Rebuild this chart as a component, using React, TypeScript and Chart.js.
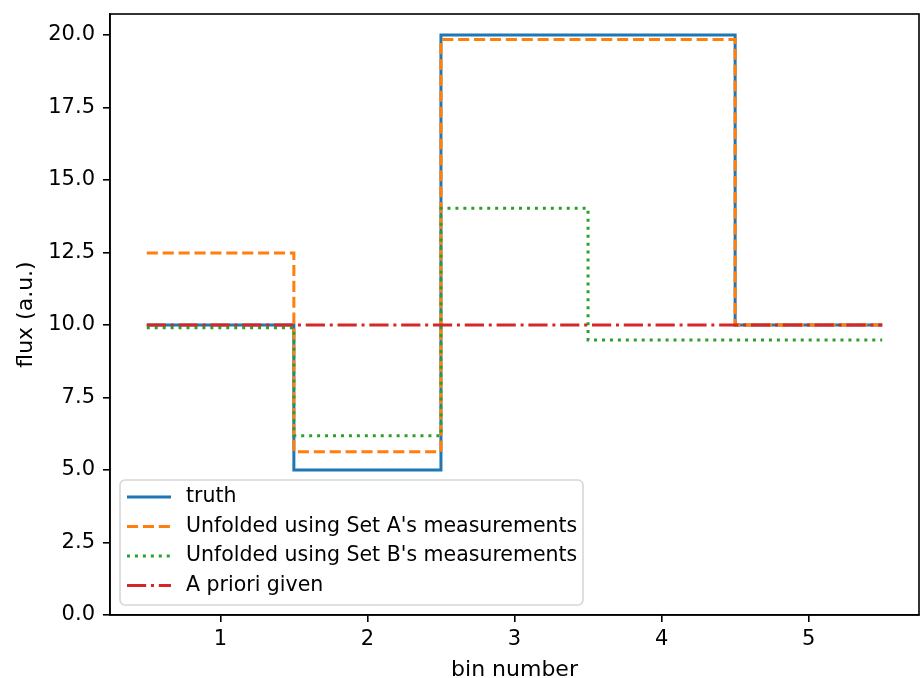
import React, { useEffect, useRef } from "react";
import { Chart, registerables } from "chart.js";

Chart.register(...registerables);

const bins = [1, 2, 3, 4, 5];
const truth = [10, 5, 20, 20, 10];
const setA = [12.48, 5.63, 19.84, 19.84, 10.0];
const setB = [9.9, 6.18, 14.02, 9.48, 9.48];
const apriori = [10, 10, 10, 10, 10];
const yTicks = [0, 2.5, 5, 7.5, 10, 12.5, 15, 17.5, 20];
const xTicks = [1, 2, 3, 4, 5];
const labels = [
  "truth",
  "Unfolded using Set A's measurements",
  "Unfolded using Set B's measurements",
  "A priori given",
];
const xTitle = "bin number";
const yTitle = "flux (a.u.)";

const FONT = "'DejaVu Sans', sans-serif";

function stepPoints(vals: number[]) {
  const pts = bins.map((b, i) => ({ x: b - 0.5, y: vals[i] }));
  pts.push({ x: bins[bins.length - 1] + 0.5, y: vals[vals.length - 1] });
  return pts;
}

const styles = [
  { color: "#1f77b4", dash: [] as number[] },
  { color: "#ff7f0e", dash: [11.1, 4.8] },
  { color: "#2ca02c", dash: [3, 4.95] },
  { color: "#d62728", dash: [19.2, 4.8, 3, 4.8] },
];

const framePlugin = {
  id: "frameLegend",
  afterDraw(chart: any) {
    const { ctx, chartArea } = chart;
    const { left, right, top, bottom } = chartArea;
    ctx.save();
    ctx.strokeStyle = "#000";
    ctx.lineWidth = 1.6;
    ctx.strokeRect(left, top, right - left, bottom - top);

    // axis titles
    ctx.fillStyle = "#000";
    ctx.font = `22px ${FONT}`;
    ctx.textAlign = "center";
    ctx.textBaseline = "alphabetic";
    ctx.fillText(xTitle, (left + right) / 2, 676);
    ctx.save();
    ctx.translate(32, (top + bottom) / 2);
    ctx.rotate(-Math.PI / 2);
    ctx.fillText(yTitle, 0, 0);
    ctx.restore();

    // legend
    const bx = left + 10, by = bottom - 135, bw = 463, bh = 125, r = 5;
    ctx.beginPath();
    ctx.moveTo(bx + r, by);
    ctx.arcTo(bx + bw, by, bx + bw, by + bh, r);
    ctx.arcTo(bx + bw, by + bh, bx, by + bh, r);
    ctx.arcTo(bx, by + bh, bx, by, r);
    ctx.arcTo(bx, by, bx + bw, by, r);
    ctx.closePath();
    ctx.fillStyle = "rgba(255,255,255,0.8)";
    ctx.fill();
    ctx.strokeStyle = "rgba(204,204,204,0.8)";
    ctx.lineWidth = 1.6;
    ctx.stroke();

    ctx.font = `20.5px ${FONT}`;
    ctx.textBaseline = "middle";
    ctx.textAlign = "left";
    labels.forEach((lab, i) => {
      const yy = by + 17 + i * 29.5;
      ctx.beginPath();
      ctx.setLineDash(styles[i].dash);
      ctx.lineCap = "butt";
      ctx.strokeStyle = styles[i].color;
      ctx.lineWidth = 3;
      ctx.moveTo(bx + 7, yy);
      ctx.lineTo(bx + 51, yy);
      ctx.stroke();
      ctx.setLineDash([]);
      ctx.fillStyle = "#000";
      ctx.fillText(lab, bx + 66, yy);
    });
    ctx.restore();
  },
};

export default function App() {
  const ref = useRef<HTMLCanvasElement>(null);
  useEffect(() => {
    if (!ref.current) return;
    const series = [truth, setA, setB, apriori];
    const chart = new Chart(ref.current, {
      type: "line",
      data: {
        datasets: series.map((s, i) => ({
          label: labels[i],
          data: stepPoints(s),
          stepped: "before" as const,
          borderColor: styles[i].color,
          borderDash: styles[i].dash,
          borderWidth: 3,
          pointRadius: 0,
          fill: false,
          order: 3 - i,
          clip: false as any,
        })),
      },
      options: {
        responsive: false,
        animation: false,
        layout: { autoPadding: false, padding: { top: 14, right: 3, left: 0, bottom: 0 } } as any,
        plugins: { legend: { display: false }, tooltip: { enabled: false } },
        scales: {
          x: {
            type: "linear",
            min: 0.25,
            max: 5.75,
            afterFit: (s: any) => {
              s.height = 63;
              s.paddingLeft = 0;
              s.paddingRight = 0;
            },
            afterBuildTicks: (s: any) => { s.ticks = xTicks.map((v) => ({ value: v })); },
            ticks: {
              color: "#000",
              font: { family: FONT, size: 21 },
              padding: 5,
              maxRotation: 0,
              callback: (v: any) => String(v),
            },
            grid: { drawOnChartArea: false, tickLength: 7, color: "#000", lineWidth: 1.6 },
            border: { display: true, color: "#000", width: 1.6 },
          },
          y: {
            type: "linear",
            min: 0,
            max: 20.72,
            afterFit: (s: any) => {
              s.width = 110;
              s.paddingTop = 0;
              s.paddingBottom = 0;
            },
            afterBuildTicks: (s: any) => { s.ticks = yTicks.map((v) => ({ value: v })); },
            ticks: {
              color: "#000",
              font: { family: FONT, size: 21 },
              padding: 8,
              callback: (v: any) => Number(v).toFixed(1),
            },
            grid: { drawOnChartArea: false, tickLength: 7, color: "#000", lineWidth: 1.6 },
            border: { display: true, color: "#000", width: 1.6 },
          },
        },
      },
      plugins: [framePlugin],
    });
    return () => chart.destroy();
  }, []);
  return (
    <div style={{ position: "absolute", left: 0, top: 0, width: 922, height: 678, background: "#fff" }}>
      <canvas ref={ref} width={922} height={678} />
    </div>
  );
}
